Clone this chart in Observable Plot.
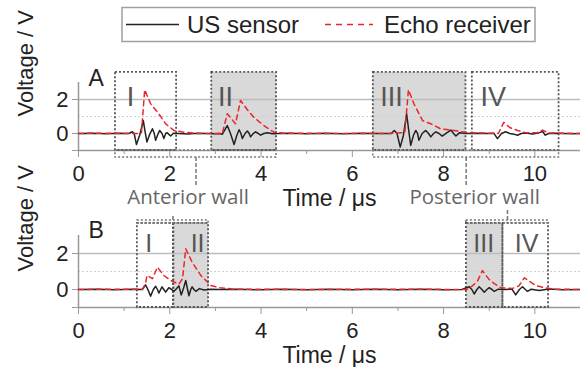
<!DOCTYPE html>
<html><head><meta charset="utf-8">
<script src="https://cdn.jsdelivr.net/npm/d3@7"></script>
<script src="https://cdn.jsdelivr.net/npm/@observablehq/plot@0.6"></script>
<style>
body{margin:0;background:#fff;width:580px;height:367px;overflow:hidden;font-family:"Liberation Sans",Arial,sans-serif;}
svg{display:block}
</style></head><body>
<div id="legend"></div>
<div id="chart"></div>
<script>
// ---------- data ----------
const seriesNames = ["US sensor", "Echo receiver"];
const panelNames = ["A", "B"];
const regionNames = ["I", "II", "III", "IV"];
const shadedRegion = [false, true, true, false];
const wallNames = ["Anterior wall", "Posterior wall"];
const xTicks = [0, 2, 4, 6, 8, 10];
const xMinorTicks = [1, 3, 5, 7, 9, 11];
const yTicks = [0, 2];
const xLabel = "Time / μs";
const yLabel = "Voltage / V";

// region extents (µs) and label centres
const regionStartA = [0.81, 2.92, 6.46, 8.63];
const regionEndA   = [2.15, 4.34, 8.49, 10.53];
const regionLabelXA = [1.14, 3.22, 6.86, 9.09];
const regionStartB = [1.29, 2.09, 8.50, 9.30];
const regionEndB   = [2.08, 2.85, 9.30, 10.30];
const regionLabelXB = [1.54, 2.61, 8.88, 9.82];
const wallLabelX = [2.40, 8.68];

// panel A traces [time µs, voltage V]
const usSensorA = [
 [0,0],[0.3,0.02],[0.6,-0.02],[0.9,0.01],[1.1,0],[1.18,0.1],[1.22,0],[1.27,-0.65],[1.34,-0.1],[1.42,0.76],
 [1.46,0.1],[1.5,-0.5],[1.56,-0.05],[1.62,0.28],[1.66,0],[1.69,-0.4],[1.74,-0.05],[1.78,0.18],[1.83,0],
 [1.87,-0.3],[1.91,0],[1.94,0.05],[1.98,-0.05],[2.02,-0.15],[2.08,0.02],[2.2,0],[2.4,-0.03],[2.6,0.02],
 [2.8,0],[3.0,-0.02],[3.1,0],[3.15,-0.05],[3.26,0.47],[3.33,0],[3.41,-0.65],[3.47,-0.1],[3.52,0.22],
 [3.56,0],[3.59,-0.3],[3.65,0],[3.7,0.15],[3.74,0],[3.77,-0.2],[3.83,0],[3.88,0.1],[3.94,0],[3.99,-0.1],
 [4.06,0],[4.14,0.05],[4.25,-0.02],[4.4,0],[4.6,0.02],[5.0,-0.02],[5.4,0.02],[5.8,-0.02],[6.2,0.01],
 [6.6,0],[6.85,0],[6.92,0.18],[6.98,0],[7.05,-0.8],[7.12,-0.1],[7.19,1.16],[7.24,0.1],[7.28,-0.7],
 [7.34,-0.1],[7.39,0.18],[7.43,0],[7.46,-0.4],[7.53,0],[7.61,0.18],[7.67,0],[7.72,-0.2],[7.78,0],
 [7.83,0.1],[7.9,0],[7.97,-0.15],[8.06,0.02],[8.16,0.2],[8.22,0],[8.27,-0.15],[8.35,0.05],[8.5,0],
 [8.7,0.02],[9.0,0],[9.1,0.02],[9.18,-0.3],[9.27,0],[9.36,0.1],[9.45,0],[9.55,-0.05],[9.62,-0.1],
 [9.7,0],[9.8,0.03],[9.95,-0.03],[10.1,0.05],[10.17,0.12],[10.23,-0.1],[10.3,0],[10.5,0.02],[10.8,-0.02],[11,0]
];
const echoA = [
 [0,0],[0.5,0.02],[1.0,0],[1.3,0],[1.38,0.05],[1.45,2.57],[1.58,1.75],[1.76,1.16],[1.91,0.57],[2.09,0.18],
 [2.3,0.08],[2.6,0],[3.15,0],[3.26,1.16],[3.44,0.57],[3.55,1.94],[3.7,1.4],[3.84,0.96],[4.06,0.47],
 [4.28,0.08],[4.5,0.02],[5.5,0],[6.8,0],[7.15,0.05],[7.23,2.57],[7.35,1.75],[7.54,0.76],[7.72,0.57],
 [7.94,0.27],[8.23,0.18],[8.52,0.05],[9.2,0],[9.32,0.66],[9.45,0.35],[9.62,0.18],[9.8,0.05],[10.05,0.05],
 [10.17,0.2],[10.3,0.03],[11,0]
];
// panel B traces
const usSensorB = [
 [0,0],[0.4,0.02],[0.8,-0.02],[1.2,0.02],[1.4,0],[1.47,0.26],[1.52,0],[1.58,-0.37],[1.64,0],[1.69,0.18],
 [1.73,0],[1.76,-0.2],[1.8,0],[1.83,0.15],[1.87,0],[1.91,-0.15],[1.95,0],[1.98,0.1],[2.04,0],[2.09,-0.1],
 [2.15,0.05],[2.2,0.2],[2.25,-0.3],[2.3,0.05],[2.35,0.5],[2.39,0],[2.42,-0.35],[2.46,0],[2.49,0.15],
 [2.53,0],[2.57,-0.1],[2.65,0.05],[2.75,-0.03],[2.9,0.02],[3.1,0],[3.5,0.02],[4,-0.02],[4.5,0.02],
 [5,-0.02],[5.5,0.02],[6,-0.01],[6.5,0.02],[7,-0.02],[7.5,0.01],[8,-0.02],[8.4,0],[8.56,0.15],[8.62,0],
 [8.67,-0.25],[8.73,0],[8.78,0.15],[8.84,0],[8.89,-0.15],[8.95,0],[9.0,0.1],[9.06,0],[9.11,-0.1],
 [9.2,0.02],[9.35,0],[9.5,0.02],[9.58,-0.3],[9.66,0],[9.73,0.15],[9.79,0],[9.84,-0.1],[9.92,0.02],
 [10.1,-0.05],[10.3,0.03],[10.6,-0.02],[11,0]
];
const echoB = [
 [0,0],[0.7,0.02],[1.4,0.02],[1.47,0.32],[1.5,0.78],[1.62,0.6],[1.73,1.24],[1.87,0.78],[2.02,0.5],
 [2.2,0.3],[2.28,0.6],[2.35,2.26],[2.49,1.52],[2.68,0.78],[2.9,0.22],[3.1,0.1],[3.4,0.02],[5,0],[7,0.02],
 [8.5,0],[8.63,0.2],[8.74,0.45],[8.85,1.05],[9.0,0.55],[9.11,0.33],[9.25,0.1],[9.5,0.05],[9.65,0.2],
 [9.77,0.65],[10.02,0.22],[10.2,0.1],[10.4,0.02],[11,0]
];

// ---------- styles ----------
const BLACK = "#222", RED = "#e8262b", GRAYTXT = "#666";
const FONT = "'Liberation Sans', Arial, sans-serif";

// ---------- legend ----------
const leg = d3.select("#legend").append("svg").attr("width", 580).attr("height", 45);
leg.append("rect").attr("x", 122).attr("y", 7.5).attr("width", 413).attr("height", 34)
  .attr("fill", "#fff").attr("stroke", "#a0a0a0").attr("stroke-width", 1.5);
leg.append("line").attr("x1", 126).attr("x2", 179).attr("y1", 24.5).attr("y2", 24.5)
  .attr("stroke", BLACK).attr("stroke-width", 1.5);
leg.append("text").attr("x", 187).attr("y", 33).attr("font-size", 24).attr("font-family", FONT)
  .attr("fill", BLACK).text(seriesNames[0]);
leg.append("line").attr("x1", 325).attr("x2", 373).attr("y1", 24.5).attr("y2", 24.5)
  .attr("stroke", RED).attr("stroke-width", 1.5).attr("stroke-dasharray", "6,5");
leg.append("text").attr("x", 384).attr("y", 33).attr("font-size", 24).attr("font-family", FONT)
  .attr("fill", BLACK).text(seriesNames[1]);

// ---------- panels ----------
function makePanel(p) {
  const us = p.us.map(([t, v]) => ({t, v}));
  const echo = p.echo.map(([t, v]) => ({t, v}));
  const regions = regionNames.map((name, i) => ({name, x1: p.start[i], x2: p.end[i], lx: p.labelX[i], shaded: shadedRegion[i]}));
  const groups = wallNames.map((name, g) => ({
    name, x1: p.start[2 * g], x2: p.end[2 * g + 1], xm: (p.start[2 * g] + p.end[2 * g + 1]) / 2,
    c2: p.connTo[g], lx: wallLabelX[g]
  }));
  const marks = [
    Plot.rect(regions.filter(d => d.shaded), {x1: "x1", x2: "x2", y1: -1, y2: p.boxTop, fill: "#d9d9d9"}),
    Plot.ruleY([2], {stroke: "#bdbdbd", strokeWidth: 1.5}),
    Plot.ruleY([1], {stroke: "#cfcfcf", strokeDasharray: "2,2"}),
    Plot.ruleY([-1], {stroke: "#999", strokeWidth: 1.5}),
    Plot.ruleX([0], {y1: -1, y2: 3, stroke: "#999", strokeWidth: 1.5}),
    Plot.axisX(xTicks, {tickSize: 7, tickPadding: 8, stroke: "#999", fill: BLACK, fontSize: 22, label: null}),
    Plot.axisX(xMinorTicks, {tickSize: 4, stroke: "#999", tickFormat: () => "", label: null}),
    Plot.axisY(yTicks, {tickSize: 6, tickPadding: 4, stroke: "#999", fill: BLACK, fontSize: 22, label: null}),
    Plot.axisY([-1], {tickSize: 6, stroke: "#999", tickFormat: () => "", label: null}),
    Plot.rect(regions, {x1: "x1", x2: "x2", y1: -1, y2: p.boxTop, fill: "none", stroke: "#555", strokeWidth: 1.8, strokeDasharray: "2,2"}),
    Plot.rect(groups, {x1: "x1", x2: "x2", y1: p.bracket[0], y2: p.bracket[1], fill: "none", stroke: "#777", strokeWidth: 1.5, strokeDasharray: "2,2"}),
    Plot.ruleX(groups, {x: "xm", y1: p.connFrom, y2: "c2", stroke: "#777", strokeWidth: 1.5, strokeDasharray: "4,2"}),
    Plot.line(us, {x: "t", y: "v", stroke: BLACK, strokeWidth: 1.5}),
    Plot.line(echo, {x: "t", y: "v", stroke: RED, strokeWidth: 1.5, strokeDasharray: "5,4"}),
    Plot.text(regions, {x: "lx", y: p.romanY, text: "name", lineAnchor: "bottom", fontSize: p.romanSize, fill: "#555"}),
    Plot.text([p.letter], {frameAnchor: "top-left", dx: 10, dy: p.letterDy, lineAnchor: "bottom", text: d => d, fontSize: 23, fill: BLACK}),
    Plot.text([yLabel], {frameAnchor: "left", dx: -53, rotate: -90, lineAnchor: "middle", text: d => d, fontSize: 22, fill: BLACK}),
    Plot.text([xLabel], {frameAnchor: "bottom", dy: 55, lineAnchor: "bottom", text: d => d, fontSize: 23, fill: BLACK})
  ];
  if (p.wallLabels) {
    marks.push(Plot.text(groups, {x: "lx", y: p.wallLabelY, text: "name", lineAnchor: "bottom", fontSize: 20.5, fill: GRAYTXT, fontFamily: "'Open Sans', sans-serif"}));
  }
  return Plot.plot({
    width: 580, height: p.height,
    marginLeft: 78, marginRight: 0, marginTop: p.marginTop, marginBottom: p.marginBottom,
    x: {domain: [0, 11], label: null},
    y: {domain: [-1, 3], label: null},
    style: {fontFamily: FONT, fontSize: "22px", color: BLACK, background: "transparent", overflow: "visible"},
    marks
  });
}

const chart = document.getElementById("chart");
chart.appendChild(makePanel({
  letter: panelNames[0], us: usSensorA, echo: echoA,
  start: regionStartA, end: regionEndA, labelX: regionLabelXA,
  height: 160, marginTop: 37, marginBottom: 55,
  boxTop: 3.59, bracket: [-1.41, -1], connFrom: -1.41, connTo: [-3.06, -3.06],
  romanY: 1.59, romanSize: 27, letterDy: 3,
  wallLabels: true, wallLabelY: -4.15
}));
chart.appendChild(makePanel({
  letter: panelNames[1], us: usSensorB, echo: echoB,
  start: regionStartB, end: regionEndB, labelX: regionLabelXB,
  height: 162, marginTop: 30, marginBottom: 60,
  boxTop: 3.67, bracket: [3.67, 3.83], connFrom: 3.83, connTo: [4.11, 4.5],
  romanY: 2.11, romanSize: 25, letterDy: 2,
  wallLabels: false
}));
</script>
</body></html>
